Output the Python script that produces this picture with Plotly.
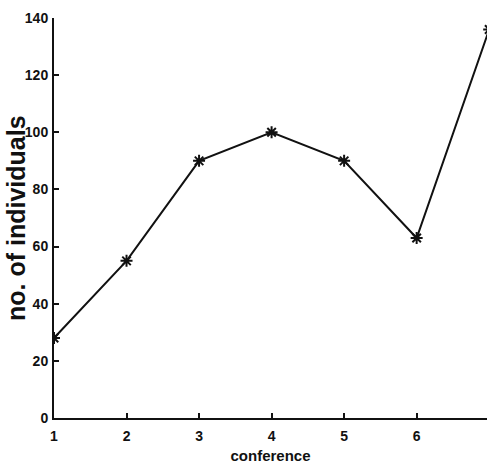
import plotly.graph_objects as go

conference = [1, 2, 3, 4, 5, 6, 7]
individuals = [28, 55, 90, 100, 90, 63, 136]
y_ticks = [0, 20, 40, 60, 80, 100, 120, 140]
x_ticks = [1, 2, 3, 4, 5, 6]

fig = go.Figure()
fig.add_trace(go.Scatter(
    x=conference, y=individuals, mode="lines+markers",
    line=dict(color="#111111", width=2),
    marker=dict(symbol="asterisk-open", size=10, color="#111111",
                line=dict(color="#111111", width=2)),
    cliponaxis=True,
))

font_family = "Liberation Sans, Arial, sans-serif"
fig.update_layout(
    width=487, height=473,
    margin=dict(l=54, r=0, t=18, b=55),
    plot_bgcolor="white", paper_bgcolor="white",
    showlegend=False,
    font=dict(family=font_family, color="#111111"),
)
fig.update_xaxes(
    range=[1, 6.97], tickvals=x_ticks, ticktext=[str(v) for v in x_ticks],
    ticks="inside", ticklen=5, tickwidth=1.5, tickcolor="#111111",
    showline=True, linecolor="#111111", linewidth=2,
    showgrid=False, zeroline=False, automargin=False,
    tickfont=dict(size=14, weight="bold"), ticklabelstandoff=4,
    title=dict(text="conference", font=dict(size=15, weight="bold"), standoff=8),
)
fig.update_yaxes(
    range=[0, 140], tickvals=y_ticks,
    ticks="inside", ticklen=5, tickwidth=1.5, tickcolor="#111111",
    showline=True, linecolor="#111111", linewidth=2,
    showgrid=False, zeroline=False, automargin=False,
    tickfont=dict(size=14, weight="bold"), ticklabelstandoff=1,
)
fig.add_annotation(
    text="no. of individuals", textangle=-90,
    xref="paper", yref="paper", x=0, y=0.5, xshift=-38,
    xanchor="center", yanchor="middle", showarrow=False,
    font=dict(size=25, weight="bold", family=font_family, color="#111111"),
)

fig.write_html("out.html", config={"displayModeBar": False},
               post_script="document.body.style.margin='0';")
